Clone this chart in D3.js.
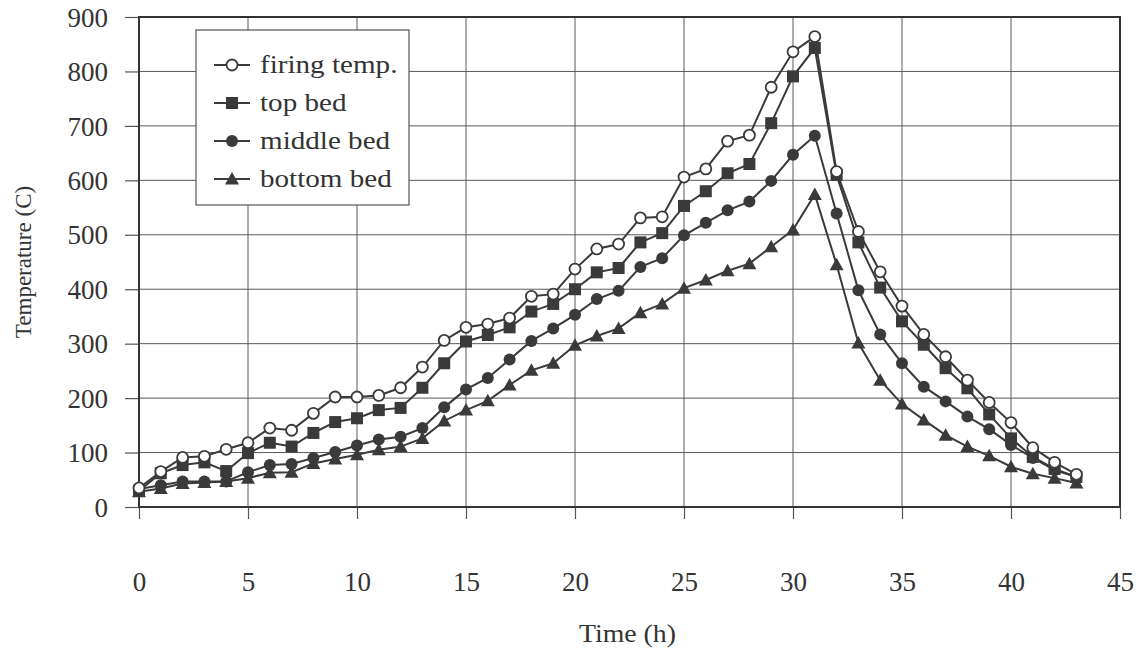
<!DOCTYPE html>
<html>
<head>
<meta charset="utf-8">
<script src="https://cdn.jsdelivr.net/npm/d3@7"></script>
<style>
  body { margin: 0; background: #fff; }
  text { font-family: "Liberation Serif", "Times New Roman", serif; fill: #333; }
</style>
</head>
<body>
<div id="chart"></div>
<script>
// hours and temperatures (C)
const hours = d3.range(0, 44);
const firingTemp = [35, 65, 91, 93, 106, 118, 145, 141, 172, 202, 202, 205, 219, 257, 306, 330, 336, 347, 387, 391,
  437, 474, 483, 531, 533, 606, 621, 672, 683, 771, 836, 864, 616, 506, 432, 369, 317, 276, 233, 192, 155, 109, 82, 60];
const topBed = [30, 62, 77, 82, 66, 99, 118, 111, 136, 156, 163, 178, 182, 219, 264, 304, 316, 330, 359, 373,
  400, 431, 439, 486, 503, 553, 580, 613, 630, 705, 791, 843, 610, 486, 403, 341, 298, 255, 218, 170, 126, 92, 70, 55];
const middleBed = [33, 40, 47, 47, 47, 64, 77, 79, 90, 101, 113, 124, 129, 145, 183, 216, 237, 271, 305, 328,
  353, 382, 397, 441, 457, 499, 522, 545, 561, 599, 647, 682, 539, 398, 317, 264, 221, 194, 166, 143, 114, 90, 68, 55];
const bottomBed = [28, 34, 43, 45, 47, 53, 63, 64, 80, 88, 96, 105, 111, 126, 158, 178, 195, 224, 251, 264,
  297, 314, 328, 357, 373, 402, 417, 434, 447, 478, 509, 574, 445, 301, 233, 189, 160, 132, 111, 94, 74, 61, 53, 44];
const seriesNames = ["firing temp.", "top bed", "middle bed", "bottom bed"];
const markerTypes = ["openCircle", "square", "circle", "triangle"];
const xTicks = d3.range(0, 50, 5);
const yTicks = d3.range(0, 1000, 100);

// formatting parameters
const width = 1142, height = 654;
const margin = { top: 17, right: 22, bottom: 147, left: 139 };
const ink = "#3a3a3a";
const serif = "'Liberation Serif', 'Times New Roman', serif";

const svg = d3.select("#chart").append("svg")
  .attr("width", width)
  .attr("height", height);

const x = d3.scaleLinear().domain([0, 45]).range([margin.left, width - margin.right]);
const y = d3.scaleLinear().domain([0, 900]).range([height - margin.bottom, margin.top]);

// gridlines
const grid = svg.append("g");
grid.selectAll("line.v").data(xTicks).enter().append("line")
  .attr("x1", d => x(d)).attr("x2", d => x(d))
  .attr("y1", y(900)).attr("y2", y(0))
  .attr("stroke", "#5a5a5a").attr("stroke-width", 1);
grid.selectAll("line.h").data(yTicks).enter().append("line")
  .attr("x1", x(0)).attr("x2", x(45))
  .attr("y1", d => y(d)).attr("y2", d => y(d))
  .attr("stroke", "#5a5a5a").attr("stroke-width", 1);

// axes
const xAxis = d3.axisBottom(x).tickValues(xTicks).tickSize(12).tickPadding(53);
const yAxis = d3.axisLeft(y).tickValues(yTicks).tickSize(14).tickPadding(17);

const gx = svg.append("g").attr("transform", `translate(0,${y(0)})`).call(xAxis);
const gy = svg.append("g").attr("transform", `translate(${x(0)},0)`).call(yAxis);
[gx, gy].forEach(g => {
  g.attr("font-family", serif);
  g.select(".domain").remove();
  g.selectAll(".tick line").attr("stroke", "#555").attr("stroke-width", 1.2);
  g.selectAll(".tick text").style("font-size", "27px").style("font-family", serif).attr("fill", "#333");
});
gy.selectAll(".tick text").attr("dy", "0.34em");

// plot frame
svg.append("rect")
  .attr("x", x(0)).attr("y", y(900))
  .attr("width", x(45) - x(0)).attr("height", y(0) - y(900))
  .attr("fill", "none").attr("stroke", "#333").attr("stroke-width", 2);

// axis titles
svg.append("text")
  .attr("transform", `translate(${(x(0) + x(45)) / 2 - 2},642) scale(1.07,1)`)
  .attr("text-anchor", "middle").style("font-size", "26px")
  .text("Time (h)");
svg.append("text")
  .attr("transform", `translate(31,${(y(0) + y(900)) / 2}) rotate(-90)`)
  .attr("text-anchor", "middle").style("font-size", "23px")
  .text("Temperature (C)");

// marker drawing
function drawMarker(sel, type) {
  if (type == "openCircle") {
    sel.append("circle").attr("r", 5.5).attr("fill", "#fff").attr("stroke", ink).attr("stroke-width", 1.8);
  } else if (type == "circle") {
    sel.append("circle").attr("r", 6).attr("fill", ink);
  } else if (type == "square") {
    sel.append("rect").attr("x", -6).attr("y", -6).attr("width", 12).attr("height", 12).attr("fill", ink);
  } else if (type == "triangle") {
    sel.append("path").attr("d", "M0,-7L7,5.5L-7,5.5Z").attr("fill", ink);
  }
}

const allSeries = [firingTemp, topBed, middleBed, bottomBed];
const line = d3.line().x((d, i) => x(hours[i])).y(d => y(d));

// draw in reverse so firing temp sits on top
for (let s = allSeries.length - 1; s >= 0; s--) {
  const vals = allSeries[s];
  svg.append("path")
    .datum(vals)
    .attr("d", line)
    .attr("fill", "none")
    .attr("stroke", ink)
    .attr("stroke-width", 2);
  svg.append("g").selectAll("g")
    .data(vals)
    .enter()
    .append("g")
    .attr("transform", (d, i) => `translate(${x(hours[i])},${y(d)})`)
    .each(function () { drawMarker(d3.select(this), markerTypes[s]); });
}

// legend
const legend = svg.append("g").attr("transform", "translate(196,30)");
legend.append("rect")
  .attr("width", 213).attr("height", 175)
  .attr("fill", "#fff").attr("stroke", "#555").attr("stroke-width", 1.2);
seriesNames.forEach((name, i) => {
  const row = legend.append("g").attr("transform", `translate(0,${35 + i * 38})`);
  row.append("line").attr("x1", 18).attr("x2", 54).attr("y1", 0).attr("y2", 0)
    .attr("stroke", ink).attr("stroke-width", 2);
  drawMarker(row.append("g").attr("transform", "translate(36,0)"), markerTypes[i]);
  row.append("text").attr("transform", "translate(64,0) scale(1.12,1)").attr("dy", "0.32em")
    .style("font-size", "26px").text(name);
});
</script>
</body>
</html>
